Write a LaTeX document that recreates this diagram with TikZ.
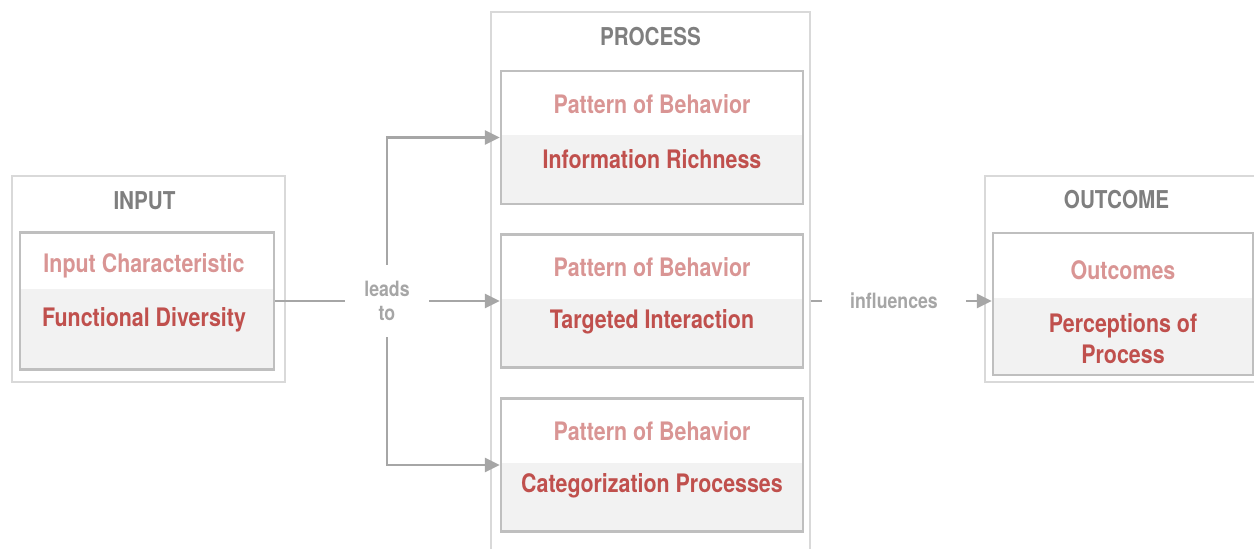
\documentclass[tikz,border=0pt]{standalone}
\usepackage{fontspec}
\setmainfont{TeX Gyre Heros}[FakeStretch=0.84]
\usetikzlibrary{arrows.meta}

\definecolor{outerline}{HTML}{D9D9D9}
\definecolor{innerline}{HTML}{BFBFBF}
\definecolor{panel}{HTML}{F2F2F2}
\definecolor{arrowgray}{HTML}{A6A6A6}
\definecolor{titlegray}{HTML}{7F7F7F}
\definecolor{headred}{HTML}{D99594}
\definecolor{bodyred}{HTML}{C0504D}

\begin{document}
\begin{tikzpicture}[
  obox/.style  = {draw=outerline, line width=1.4pt},
  cbox/.style  = {draw=innerline, line width=1.4pt, minimum width=6.04cm,
                  minimum height=2.66cm,
                  path picture={\fill[panel]
                    ([yshift=-#1]path picture bounding box.north west)
                    rectangle (path picture bounding box.south east);}},
  ttl/.style   = {font=\bfseries\fontsize{14}{16}\selectfont, text=titlegray},
  htxt/.style  = {font=\bfseries\fontsize{14.5}{17}\selectfont, text=headred},
  btxt/.style  = {font=\bfseries\fontsize{14.5}{17}\selectfont, text=bodyred,
                  align=center},
  gline/.style = {line width=1.4pt, arrowgray},
  garr/.style  = {-{Triangle[length=8.5pt,width=8pt]}, line width=1.4pt,
                  arrowgray},
  glbl/.style  = {font=\bfseries\fontsize{12}{13.5}\selectfont,
                  text=arrowgray, fill=white, align=center},
]
\useasboundingbox (0,0) rectangle (25.08,-10.96);

% outer frames
\node[obox, minimum width=5.46cm, minimum height=4.12cm] (inOuter) at (2.97,-5.58) {};
\node[obox, minimum width=6.38cm, minimum height=11.56cm] (prOuter) at (13.01,-6.02) {};
\node[obox, minimum width=5.46cm, minimum height=4.12cm] (ocOuter) at (22.43,-5.58) {};

\node[ttl] (inTitle) at ([xshift=-0.08cm,yshift=-0.52cm]inOuter.north) {INPUT};
\node[ttl] (prTitle) at ([yshift=-0.52cm]prOuter.north) {PROCESS};
\node[ttl] (ocTitle) at ([xshift=-0.1cm,yshift=-0.5cm]ocOuter.north) {OUTCOME};

% input
\node[cbox=1.12cm, minimum width=5.08cm, minimum height=2.74cm] (inBox) at (2.94,-6.02) {};
\node[htxt] (inHead) at ([xshift=-0.06cm,yshift=-0.70cm]inBox.north) {Input Characteristic};
\node[btxt] (inBody) at ([xshift=-0.06cm,yshift=-1.77cm]inBox.north) {Functional Diversity};

% process
\node[cbox=1.28cm] (b1) at (13.04,-2.75) {};
\node[cbox=1.28cm] (b2) at (13.04,-6.02) {};
\node[cbox=1.28cm] (b3) at (13.04,-9.30) {};
\foreach \b/\txt in {b1/Information Richness, b2/Targeted Interaction,
                     b3/Categorization Processes} {
  \node[htxt] (\b h) at ([yshift=-0.68cm]\b.north) {Pattern of Behavior};
  \node[btxt] (\b t) at ([yshift=-1.78cm]\b.north) {\txt};
}

% outcome
\node[cbox=1.30cm, minimum width=5.2cm, minimum height=2.84cm] (ocBox) at (22.46,-6.08) {};
\node[htxt] (ocHead) at ([yshift=-0.76cm]ocBox.north) {Outcomes};
\node[btxt] (ocBody) at ([yshift=-2.14cm]ocBox.north) {Perceptions of\\[1pt]Process};

% leads to: one stem, three branches
\coordinate (split) at (7.74,-6.02);
\draw[gline] (inBox.east) -- (split);
\draw[garr] (split) |- (b1.west);
\draw[garr] (split) -- (b2.west);
\draw[garr] (split) |- (b3.west);
\node[glbl, minimum width=1.68cm, minimum height=1.44cm] (leads) at (split) {leads\\to};

% influences
\draw[garr] (prOuter.east) -- (prOuter.east -| ocBox.west);
\node[glbl, minimum width=2.88cm, minimum height=0.8cm] (infl) at (17.88,-6.02) {influences};

\end{tikzpicture}
\end{document}
